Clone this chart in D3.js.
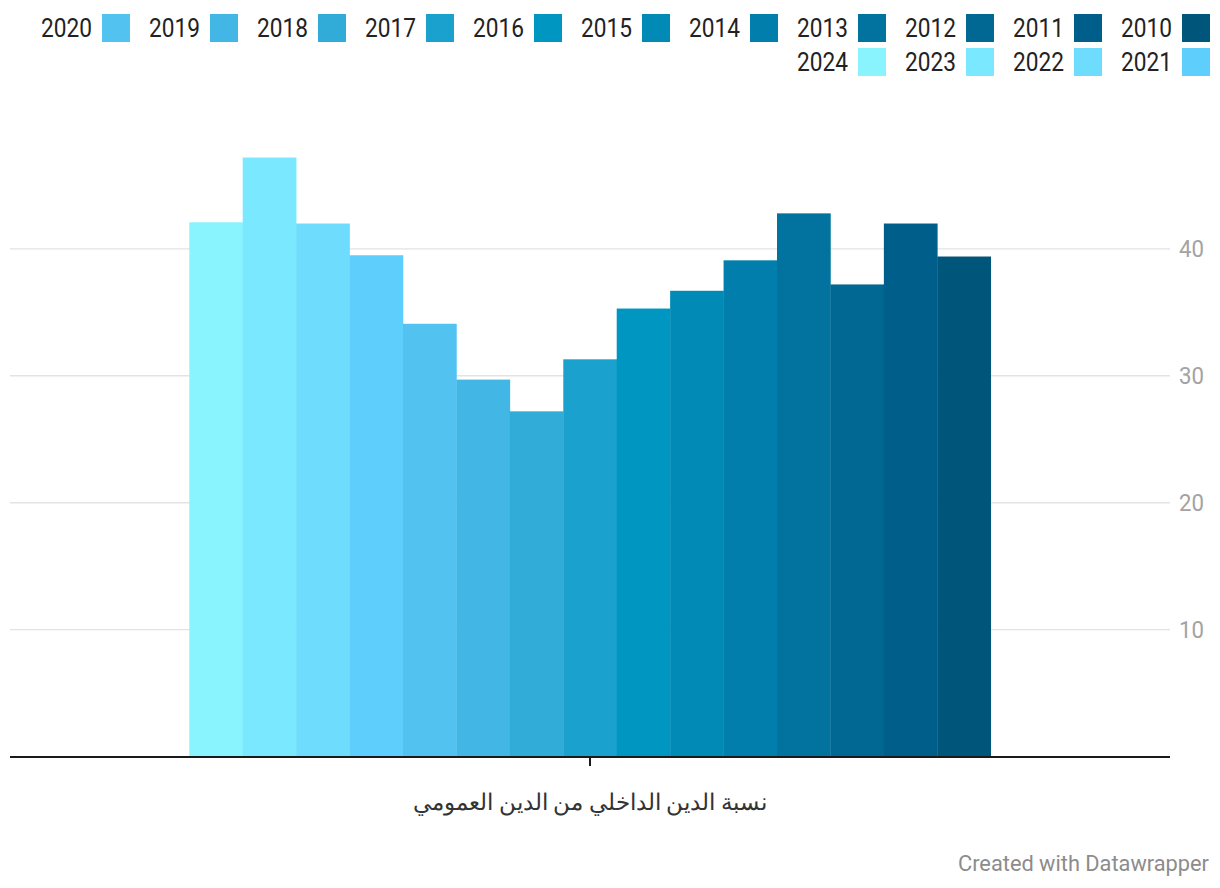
<!DOCTYPE html>
<html>
<head>
<meta charset="utf-8">
<script src="https://cdn.jsdelivr.net/npm/d3@7"></script>
<style>
  html, body { margin: 0; padding: 0; background: #fff; }
  svg { display: block; }
  text { font-family: Roboto, "Noto Sans", sans-serif; }
</style>
</head>
<body>
<svg id="chart" width="1220" height="888"></svg>
<script>
// ---- data ----
const categories = ["نسبة الدين الداخلي من الدين العمومي"];
const years = ["2024","2023","2022","2021","2020","2019","2018","2017","2016","2015","2014","2013","2012","2011","2010"];
const values = [42.1, 47.2, 42.0, 39.5, 34.1, 29.7, 27.2, 31.3, 35.3, 36.7, 39.1, 42.8, 37.2, 42.0, 39.4];
const colors = ["#8af4fe","#7ae8fe","#6edcfd","#5ecffc","#52c3f0","#42b6e4","#31acd9","#1aa1ce","#0096c2","#028ab7","#017eab","#01739e","#006892","#005e8a","#00557a"];
const legendOrder = ["2010","2011","2012","2013","2014","2015","2016","2017","2018","2019","2020","2021","2022","2023","2024"];
const yTicks = [10, 20, 30, 40];
const footer = "Created with Datawrapper";

(function () {
const svg = d3.select("#chart");
const plotLeft = 10, plotRight = 1170, plotBottom = 756.5;

const y = d3.scaleLinear().domain([0, 50]).range([plotBottom, plotBottom - 50 * 12.69]);
const x0 = d3.scaleBand().domain(categories).range([plotLeft, plotRight]).paddingOuter(0.2237).paddingInner(0);
const x1 = d3.scaleBand().domain(years).range([0, x0.bandwidth()]).padding(0);
const color = d3.scaleOrdinal().domain(years).range(colors);

// gridlines
svg.append("g").selectAll("line").data(yTicks).join("line")
  .attr("x1", plotLeft).attr("x2", plotRight)
  .attr("y1", d => y(d)).attr("y2", d => y(d))
  .attr("stroke", "#e3e3e3").attr("stroke-width", 1.4);

// y tick labels
svg.append("g").selectAll("text").data(yTicks).join("text")
  .attr("x", 1179).attr("y", d => y(d))
  .attr("dominant-baseline", "central")
  .attr("fill", "#a3a3a3").attr("font-size", 23.5)
  .attr("textLength", 25).attr("lengthAdjust", "spacingAndGlyphs")
  .text(d => d);

// bars
const data = years.map((yr, i) => ({ year: yr, value: values[i], cat: categories[0] }));
svg.append("g").selectAll("rect").data(data).join("rect")
  .attr("x", d => x0(d.cat) + x1(d.year))
  .attr("width", x1.bandwidth() + 0.3)
  .attr("y", d => y(d.value))
  .attr("height", d => y(0) - y(d.value))
  .attr("fill", d => color(d.year));

// x axis line
svg.append("line").attr("x1", plotLeft).attr("x2", plotRight)
  .attr("y1", 757).attr("y2", 757).attr("stroke", "#1a1a1a").attr("stroke-width", 2);
// tick
const cx = x0(categories[0]) + x0.bandwidth() / 2;
svg.append("line").attr("x1", cx).attr("x2", cx).attr("y1", 757).attr("y2", 766)
  .attr("stroke", "#1a1a1a").attr("stroke-width", 2);

// category label
svg.append("text").attr("x", cx).attr("y", 810)
  .attr("text-anchor", "middle").attr("fill", "#333").attr("font-size", 22.8)
  .attr("font-family", "'Noto Sans', 'DejaVu Sans', sans-serif")
  .text(categories[0]);

// legend
const lg = svg.append("g").selectAll("g").data(legendOrder).join("g")
  .attr("transform", (d, i) => {
    const col = i % 11, row = Math.floor(i / 11);
    return `translate(${1182 - col * 108},${14 + row * 34})`;
  });
lg.append("rect").attr("width", 28).attr("height", 28).attr("fill", d => color(d));
lg.append("text").attr("x", -10).attr("y", 14)
  .attr("text-anchor", "end").attr("dominant-baseline", "central")
  .attr("fill", "#222").attr("font-size", 26)
  .attr("textLength", 51).attr("lengthAdjust", "spacingAndGlyphs")
  .text(d => d);

// footer
svg.append("text").attr("x", 1209).attr("y", 871)
  .attr("text-anchor", "end").attr("fill", "#8c8c8c").attr("font-size", 22)
  .attr("textLength", 251).attr("lengthAdjust", "spacingAndGlyphs")
  .text(footer);
})();
</script>
</body>
</html>
